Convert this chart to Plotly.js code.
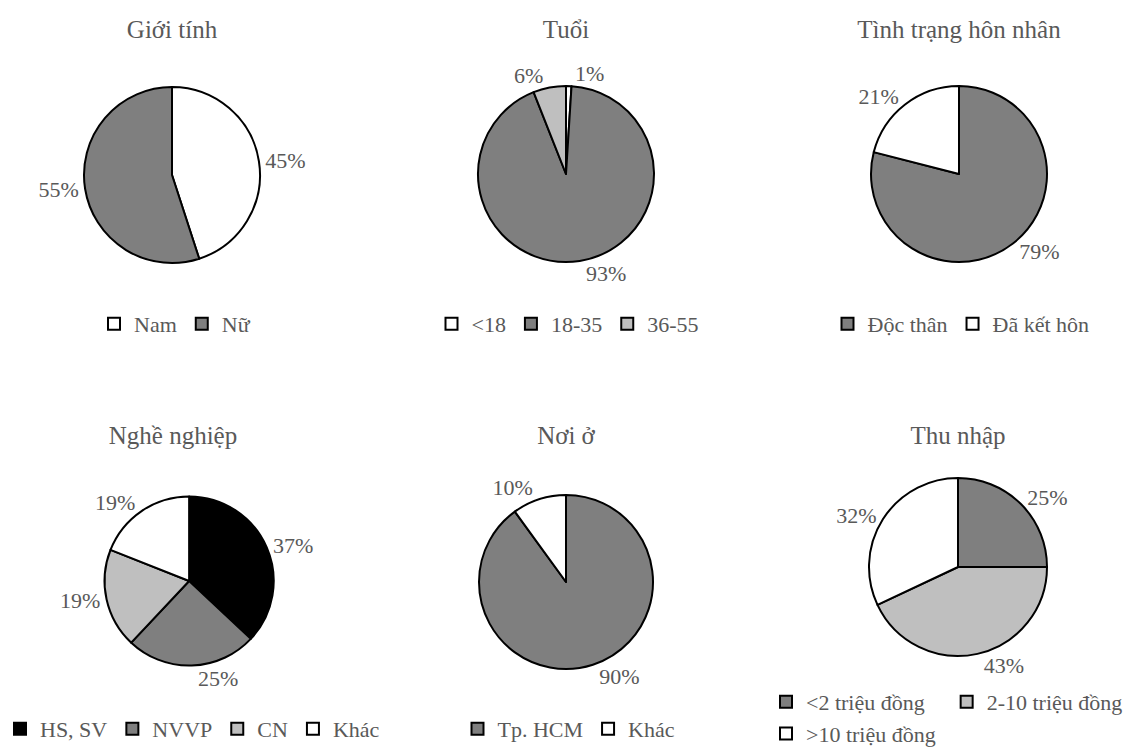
<!DOCTYPE html>
<html>
<head>
<meta charset="utf-8">
<script src="https://cdn.plot.ly/plotly-3.0.1.min.js"></script>
<style>
html, body { margin: 0; padding: 0; background: #ffffff; overflow: hidden; }
#wrap { position: relative; width: 1146px; height: 750px; background: #ffffff; overflow: hidden; }
.pc { position: absolute; }
</style>
</head>
<body>
<div id="wrap"></div>
<script>
// ---- data ----
const chartTitles = ['Giới tính', 'Tuổi', 'Tình trạng hôn nhân', 'Nghề nghiệp', 'Nơi ở', 'Thu nhập'];

const genderLabels = ['Nam', 'Nữ'];
const genderValues = [45, 55];

const ageLabels = ['<18', '18-35', '36-55'];
const ageValues = [1, 93, 6];

const maritalLabels = ['Độc thân', 'Đã kết hôn'];
const maritalValues = [79, 21];

const jobLabels = ['HS, SV', 'NVVP', 'CN', 'Khác'];
const jobValues = [37, 25, 19, 19];

const residenceLabels = ['Tp. HCM', 'Khác'];
const residenceValues = [90, 10];

const incomeLabels = ['<2 triệu đồng', '2-10 triệu đồng', '>10 triệu đồng'];
const incomeValues = [25, 43, 32];

// ---- styles / layout ----
const WHITE = '#ffffff', GRAY = '#7f7f7f', LIGHT = '#bfbfbf', BLACK = '#000000';
const TEXT = '#595959';
const FONT = 'Liberation Serif, DejaVu Serif, serif';

const charts = [
  { title: chartTitles[0], labels: genderLabels, values: genderValues, colors: [WHITE, GRAY],
    cx: 172, cy: 175, r: 88, ty: 29, lx: 175, ly: 324, lanchor: 'center', box: [0, 0, 1146, 375] },
  { title: chartTitles[1], labels: ageLabels, values: ageValues, colors: [WHITE, GRAY, LIGHT],
    cx: 566, cy: 174, r: 88, ty: 29, lx: 568, ly: 324, lanchor: 'center', box: [0, 0, 1146, 375] },
  { title: chartTitles[2], labels: maritalLabels, values: maritalValues, colors: [GRAY, WHITE],
    cx: 959, cy: 174, r: 88, ty: 29, lx: 961, ly: 324, lanchor: 'center', box: [0, 0, 1146, 375] },
  { title: chartTitles[3], labels: jobLabels, values: jobValues, colors: [BLACK, GRAY, LIGHT, WHITE],
    cx: 173, cy: 581, r: 86, ty: 435, lx: 176, ly: 729, lanchor: 'center', box: [0, 375, 1146, 375] },
  { title: chartTitles[4], labels: residenceLabels, values: residenceValues, colors: [GRAY, WHITE],
    cx: 566, cy: 582, r: 87, ty: 435, lx: 569, ly: 729, lanchor: 'center', box: [0, 375, 1146, 375] },
  { title: chartTitles[5], labels: incomeLabels, values: incomeValues, colors: [GRAY, LIGHT, WHITE],
    cx: 958, cy: 567, r: 89, ty: 435, lx: 766, ly: 718, lanchor: 'left', box: [760, 375, 386, 420] }
];

const wrap = document.getElementById('wrap');

charts.forEach(function (c, i) {
  const [left, top, w, h] = c.box;
  const div = document.createElement('div');
  div.className = 'pc';
  div.id = 'pie' + i;
  div.style.left = left + 'px';
  div.style.top = top + 'px';
  div.style.width = w + 'px';
  div.style.height = h + 'px';
  wrap.appendChild(div);

  const trace = {
    type: 'pie',
    labels: c.labels,
    values: c.values,
    sort: false,
    direction: 'clockwise',
    rotation: 0,
    marker: { colors: c.colors, line: { color: '#000000', width: 2 } },
    textinfo: 'percent',
    textposition: 'outside',
    outsidetextfont: { family: FONT, size: 22, color: TEXT },
    hoverinfo: 'skip',
    domain: {
      x: [(c.cx - c.r - left) / w, (c.cx + c.r - left) / w],
      y: [1 - (c.cy + c.r - top) / h, 1 - (c.cy - c.r - top) / h]
    }
  };

  const legend = {
    orientation: 'h',
    x: (c.lx - left) / w,
    xanchor: c.lanchor,
    y: 1 - (c.ly - top) / h,
    yanchor: 'middle',
    font: { family: FONT, size: 22, color: TEXT },
    bgcolor: 'rgba(0,0,0,0)',
    itemclick: false,
    itemdoubleclick: false
  };

  const layout = {
    width: w,
    height: h,
    margin: { l: 0, r: 0, t: 0, b: 0 },
    paper_bgcolor: 'rgba(0,0,0,0)',
    plot_bgcolor: 'rgba(0,0,0,0)',
    font: { family: FONT, color: TEXT },
    showlegend: true,
    legend: legend,
    title: {
      text: c.title,
      font: { family: FONT, size: 25, color: TEXT },
      xref: 'container', yref: 'container',
      x: (c.cx - left) / w, xanchor: 'center',
      y: 1 - (c.ty - top) / h, yanchor: 'middle'
    }
  };

  Plotly.newPlot(div, [trace], layout, { staticPlot: true, displayModeBar: false });
});
</script>
</body>
</html>
